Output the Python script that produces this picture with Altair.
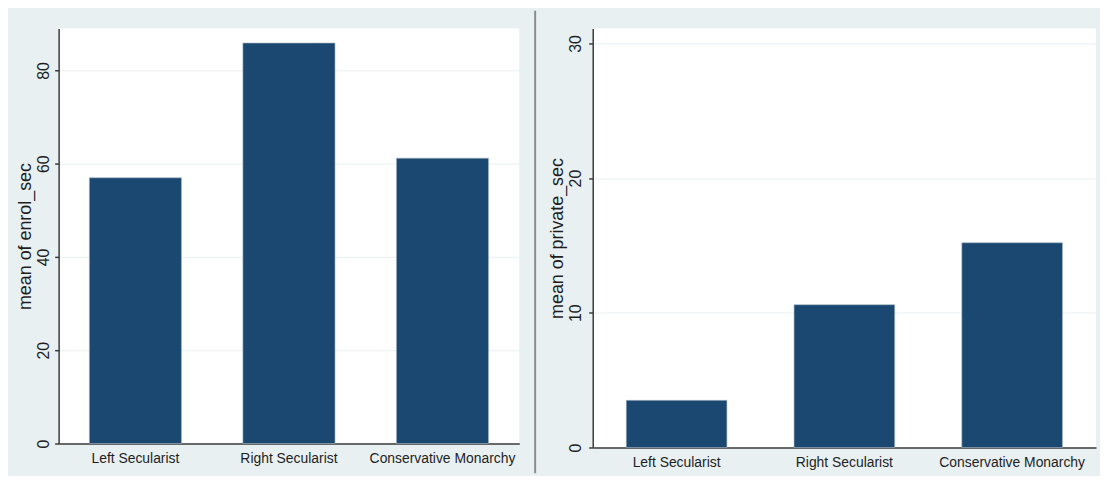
import altair as alt
import pandas as pd

categories = ["Left Secularist", "Right Secularist", "Conservative Monarchy"]
enrol_sec = [57.0, 85.9, 61.2]
private_sec = [3.5, 10.6, 15.2]
enrol_ticks = [0, 20, 40, 60, 80]
private_ticks = [0, 10, 20, 30]

BAR = "#1B4870"
BG = "#E8F0F2"
AX = "#3a3a3a"
TXT = "#1e1e1e"
FONT = "Liberation Sans, Arial, sans-serif"


def panel(values, title, domain_max, ticks, w, h, lp, sep=False):
    df = pd.DataFrame({"group": categories, "value": values})
    x = alt.X(
        "group:N", sort=categories, title=None,
        scale=alt.Scale(paddingInner=0.4, paddingOuter=0.2),
        axis=alt.Axis(labelAngle=0, ticks=False, domainColor=AX, domainWidth=1.5,
                      labelFont=FONT, labelFontSize=14, labelColor=TXT,
                      labelPadding=8, grid=False),
    )
    y = alt.Y(
        "value:Q", title=title,
        scale=alt.Scale(domain=[0, domain_max], nice=False, zero=True),
        axis=alt.Axis(values=ticks, labelAngle=270, labelFont=FONT, labelFontSize=16,
                      labelColor=TXT, labelPadding=lp, tickSize=4, tickColor=AX,
                      tickWidth=1.5, domainColor=AX, domainWidth=1.5,
                      grid=True, gridColor=BG, gridWidth=1,
                      titleFont=FONT, titleFontSize=18, titleFontWeight="normal",
                      titleColor=TXT, titlePadding=1),
    )
    bars = alt.Chart(df).mark_bar(color=BAR, stroke="#a9b8c6", strokeWidth=0.6).encode(x=x, y=y)
    layers = [bars]
    if sep:
        rule = alt.Chart(pd.DataFrame({"k": [0]})).mark_rule(
            color="#8c8c8c", strokeWidth=2, clip=False
        ).encode(x=alt.value(w + 16), y=alt.value(-18), y2=alt.value(448))
        layers.append(rule)
    return alt.layer(*layers).properties(width=w, height=h)


left = panel(enrol_sec, "mean of enrol_sec", 89, enrol_ticks, 464, 418, 3, sep=True)
right = panel(private_sec, "mean of private_sec", 31.1, private_ticks, 507, 422, 5)

chart = alt.hconcat(left, right, spacing=13).properties(
    background=BG,
    padding={"left": 9, "top": 0, "right": 4, "bottom": 0},
).configure_view(stroke=None, fill="white")

chart.save("out.html", embed_options={"renderer": "svg", "actions": False})
